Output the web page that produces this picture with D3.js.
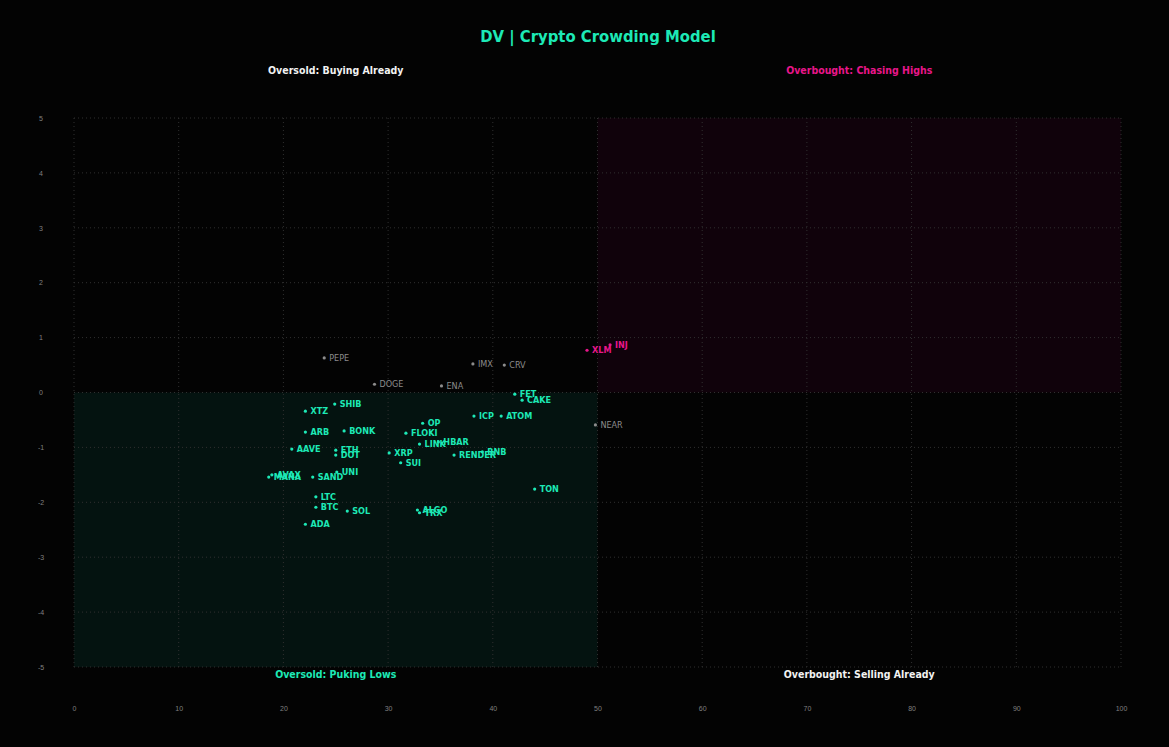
<!DOCTYPE html>
<html>
<head>
<meta charset="utf-8">
<script src="https://cdn.jsdelivr.net/npm/d3@7"></script>
<style>
    body { margin: 0; background: #030303; }
    svg { display: block; font-family: "DejaVu Sans Condensed", "DejaVu Sans", sans-serif; }
    .tick text { fill: #808080; font-size: 7px; }
    .coin { font-size: 9px; font-weight: bold; }
    .coin.grey { font-weight: normal; }
    .quad { font-size: 10.5px; font-weight: bold; }
</style>
</head>
<body>
<script>
var WIDTH = 1169, HEIGHT = 747;

// coin tickers with x (crowding score), y (z-score) and the zone they are coloured by
var coins = ["PEPE", "DOGE", "ENA", "IMX", "CRV", "XLM", "INJ", "NEAR", "FET", "CAKE",
    "SHIB", "XTZ", "ICP", "ATOM", "OP", "ARB", "BONK", "FLOKI", "LINK", "HBAR",
    "RENDER", "BNB", "AAVE", "ETH", "DOT", "XRP", "SUI", "UNI", "SAND", "AVAX",
    "MANA", "LTC", "BTC", "SOL", "ALGO", "TRX", "ADA", "TON"];
var xValues = [23.9, 28.7, 35.1, 38.1, 41.1, 49.0, 51.2, 49.8, 42.1, 42.8,
    24.9, 22.1, 38.2, 40.8, 33.3, 22.1, 25.8, 31.7, 33.0, 34.8,
    36.3, 39.0, 20.8, 25.0, 25.0, 30.1, 31.2, 25.1, 22.8, 18.9,
    18.6, 23.1, 23.1, 26.1, 32.8, 33.0, 22.1, 44.0];
var yValues = [0.63, 0.15, 0.12, 0.52, 0.50, 0.77, 0.87, -0.59, -0.03, -0.14,
    -0.21, -0.34, -0.43, -0.43, -0.56, -0.72, -0.70, -0.74, -0.94, -0.90,
    -1.14, -1.08, -1.03, -1.05, -1.14, -1.10, -1.28, -1.45, -1.54, -1.50,
    -1.54, -1.90, -2.09, -2.16, -2.14, -2.19, -2.40, -1.76];
var zones = ["neutral", "neutral", "neutral", "neutral", "neutral", "chasing", "chasing", "neutral", "puking", "puking",
    "puking", "puking", "puking", "puking", "puking", "puking", "puking", "puking", "puking", "puking",
    "puking", "puking", "puking", "puking", "puking", "puking", "puking", "puking", "puking", "puking",
    "puking", "puking", "puking", "puking", "puking", "puking", "puking", "puking"];

var xTicks = [0, 10, 20, 30, 40, 50, 60, 70, 80, 90, 100];
var yTicks = [-5, -4, -3, -2, -1, 0, 1, 2, 3, 4, 5];

var quadLabels = ["Oversold: Buying Already", "Overbought: Chasing Highs", "Oversold: Puking Lows", "Overbought: Selling Already"];
var quadCenters = [25, 75, 25, 75];
var quadTop = [true, true, false, false];
var quadColors = ["#f2f2f2", "#e8168a", "#1de9b6", "#f2f2f2"];

var TEAL = "#1de9b6", PINK = "#e8168a", GREY = "#8c8c8c";
var zoneColor = { puking: TEAL, chasing: PINK, neutral: GREY };

var margin = { top: 118, right: 48, bottom: 80, left: 74 };

var svg = d3.select("body").append("svg")
    .attr("width", WIDTH)
    .attr("height", HEIGHT);

svg.append("rect")
    .attr("width", WIDTH)
    .attr("height", HEIGHT)
    .attr("fill", "#030303");

var x = d3.scaleLinear().domain([0, 100]).range([margin.left, WIDTH - margin.right]);
var y = d3.scaleLinear().domain([-5, 5]).range([HEIGHT - margin.bottom, margin.top]);

//Shaded quadrants
svg.append("rect")
    .attr("x", x(0)).attr("y", y(0))
    .attr("width", x(50) - x(0)).attr("height", y(-5) - y(0))
    .attr("fill", "#041310");
svg.append("rect")
    .attr("x", x(50)).attr("y", y(5))
    .attr("width", x(100) - x(50)).attr("height", y(0) - y(5))
    .attr("fill", "#10020b");

//Dotted grid
svg.append("g").selectAll("line")
    .data(xTicks).join("line")
    .attr("x1", d => x(d)).attr("x2", d => x(d))
    .attr("y1", y(5)).attr("y2", y(-5))
    .attr("stroke", "#303030").attr("stroke-dasharray", "1,3");
svg.append("g").selectAll("line")
    .data(yTicks).join("line")
    .attr("y1", d => y(d)).attr("y2", d => y(d))
    .attr("x1", x(0)).attr("x2", x(100))
    .attr("stroke", "#303030").attr("stroke-dasharray", "1,3");

//Axes, labels only
var xAxis = svg.append("g")
    .attr("transform", "translate(0," + (HEIGHT - 41) + ")")
    .call(d3.axisBottom(x).tickValues(xTicks).tickSize(0).tickPadding(0));
var yAxis = svg.append("g")
    .attr("transform", "translate(" + 41 + ",0)")
    .call(d3.axisLeft(y).tickValues(yTicks).tickSize(0).tickPadding(0)
        .tickFormat(d => d < 0 ? "-" + Math.abs(d) : d));
xAxis.select(".domain").remove();
yAxis.select(".domain").remove();
yAxis.selectAll("text").attr("text-anchor", "middle").attr("dy", "0.32em");

//Title
svg.append("text")
    .attr("x", 598)
    .attr("y", 42)
    .attr("text-anchor", "middle")
    .attr("fill", TEAL)
    .style("font-size", "16.5px")
    .style("font-weight", "bold")
    .text("DV | Crypto Crowding Model");

//Quadrant captions
svg.append("g").selectAll("text")
    .data(quadLabels).join("text")
    .attr("class", "quad")
    .attr("x", (d, i) => x(quadCenters[i]))
    .attr("y", (d, i) => quadTop[i] ? 74 : 678)
    .attr("text-anchor", "middle")
    .attr("fill", (d, i) => quadColors[i])
    .text(d => d);

//Points
var points = coins.map(function (c, i) {
    return { name: c, x: xValues[i], y: yValues[i], zone: zones[i] };
});

var pts = svg.append("g").selectAll("g")
    .data(points).join("g")
    .attr("transform", d => "translate(" + x(d.x) + "," + y(d.y) + ")");

pts.append("circle")
    .attr("r", 1.6)
    .attr("fill", d => zoneColor[d.zone]);

pts.append("text")
    .attr("class", d => d.zone === "neutral" ? "coin grey" : "coin")
    .attr("x", 5)
    .attr("dy", "0.35em")
    .attr("fill", d => zoneColor[d.zone])
    .text(d => d.name);
</script>
</body>
</html>
